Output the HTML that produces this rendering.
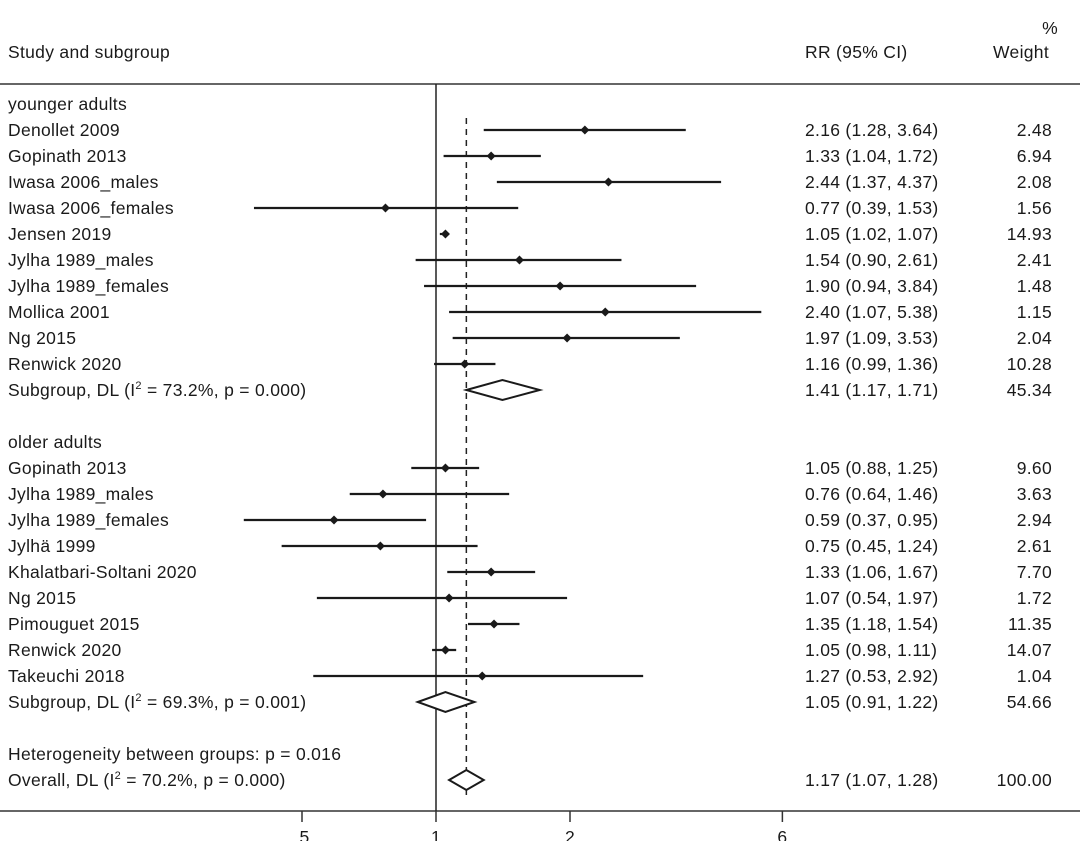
<!DOCTYPE html>
<html><head><meta charset="utf-8">
<style>
body{margin:0;background:#fff;}
svg{display:block;font-family:"Liberation Sans",sans-serif;}
text{font-size:17.5px;letter-spacing:0.3px;fill:#1a1a1a;}
</style></head>
<body>
<svg id="chart" width="1080" height="841" viewBox="0 0 1080 841" xmlns="http://www.w3.org/2000/svg">
<text x="1050" y="34" text-anchor="middle">%</text>
<text x="8" y="58">Study and subgroup</text>
<text x="805" y="58">RR (95% CI)</text>
<text x="1049" y="58" text-anchor="end">Weight</text>
<line x1="0" y1="84" x2="1080" y2="84" stroke="#333" stroke-width="1.5"/>
<line x1="0" y1="811" x2="1080" y2="811" stroke="#333" stroke-width="1.5"/>
<g id="marks"></g>
</svg>
<script>
const labels=["younger adults","Denollet 2009","Gopinath 2013","Iwasa 2006_males","Iwasa 2006_females","Jensen 2019","Jylha 1989_males","Jylha 1989_females","Mollica 2001","Ng 2015","Renwick 2020","SUB1","","older adults","Gopinath 2013","Jylha 1989_males","Jylha 1989_females","Jylhä 1999","Khalatbari-Soltani 2020","Ng 2015","Pimouguet 2015","Renwick 2020","Takeuchi 2018","SUB2","","Heterogeneity between groups: p = 0.016","OVERALL"];
const kinds=["head","s","s","s","s","s","s","s","s","s","s","d","","head","s","s","s","s","s","s","s","s","s","d","","head","d"];
const est=[null,2.16,1.33,2.44,0.77,1.05,1.54,1.90,2.40,1.97,1.16,1.41,null,null,1.05,0.76,0.59,0.75,1.33,1.07,1.35,1.05,1.27,1.05,null,null,1.17];
const lo=[null,1.28,1.04,1.37,0.39,1.02,0.90,0.94,1.07,1.09,0.99,1.17,null,null,0.88,0.64,0.37,0.45,1.06,0.54,1.18,0.98,0.53,0.91,null,null,1.07];
const hi=[null,3.64,1.72,4.37,1.53,1.07,2.61,3.84,5.38,3.53,1.36,1.71,null,null,1.25,1.46,0.95,1.24,1.67,1.97,1.54,1.11,2.92,1.22,null,null,1.28];
const weights=[null,"2.48","6.94","2.08","1.56","14.93","2.41","1.48","1.15","2.04","10.28","45.34",null,null,"9.60","3.63","2.94","2.61","7.70","1.72","11.35","14.07","1.04","54.66",null,null,"100.00"];
const subText={"SUB1":["Subgroup, DL (I","2"," = 73.2%, p = 0.000)"],"SUB2":["Subgroup, DL (I","2"," = 69.3%, p = 0.001)"],"OVERALL":["Overall, DL (I","2"," = 70.2%, p = 0.000)"]};
const overallEst=1.17;
const ticks=[0.5,1,2,6];
const tickLabels=[".5","1","2","6"];

const NS="http://www.w3.org/2000/svg";
const g=document.getElementById('marks');
const xs=v=>436+134*Math.log2(v);
const ys=i=>104+26*i;
function mk(t,a,p){const e=document.createElementNS(NS,t);for(const k in a)e.setAttribute(k,a[k]);(p||g).appendChild(e);return e;}
const fmt=v=>v.toFixed(2);

let ln=mk('line',{x1:xs(1),y1:84,x2:xs(1),y2:811,stroke:'#222','stroke-width':1.5});


ln=mk('line',{x1:xs(overallEst),y1:118,x2:xs(overallEst),y2:800,stroke:'#222','stroke-width':1.5,'stroke-dasharray':'6,5'});



labels.forEach((lab,i)=>{
  const y=ys(i);
  if(kinds[i]==="")return;
  let t;
  if(subText[lab]){
    t=mk('text',{x:8,y:y+6});
    const p=subText[lab];
    t.appendChild(document.createTextNode(p[0]));
    const s=mk('tspan',{dy:-7,'font-size':'11px'},t);s.textContent=p[1];
    const r=mk('tspan',{dy:7},t);r.textContent=p[2];
  } else {t=mk('text',{x:8,y:y+6});t.textContent=lab;}
  
  
  if(est[i]==null)return;
  const ci=mk('text',{x:805,y:y+6});ci.textContent=fmt(est[i])+" ("+fmt(lo[i])+", "+fmt(hi[i])+")";
  
  
  const w=mk('text',{x:1052,y:y+6,'text-anchor':'end'});w.textContent=weights[i];
  
  
  const xe=xs(est[i]),xl=xs(lo[i]),xh=xs(hi[i]);
  if(kinds[i]==="s"){
    const l=mk('line',{x1:xl,y1:y,x2:xh,y2:y,stroke:'#1a1a1a','stroke-width':2.2});
    
    
    const d=mk('polygon',{points:`${xe-4.5},${y} ${xe},${y-4.5} ${xe+4.5},${y} ${xe},${y+4.5}`,fill:'#1a1a1a'});
    
    
  } else {
    const d=mk('polygon',{points:`${xl},${y} ${xe},${y-10} ${xh},${y} ${xe},${y+10}`,fill:'#fff',stroke:'#1a1a1a','stroke-width':2});
    
    
  }
});
ticks.forEach((v,k)=>{
  const tl=mk('line',{x1:xs(v),y1:811,x2:xs(v),y2:822,stroke:'#333','stroke-width':1.5});
  
  
  const tt=mk('text',{x:xs(v),y:843,'text-anchor':'middle'});tt.textContent=tickLabels[k];
  
  
});
</script>
</body></html>
